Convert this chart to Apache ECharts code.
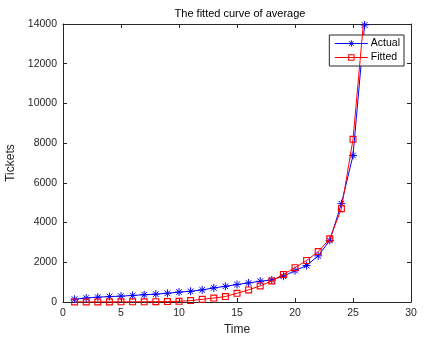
<!DOCTYPE html>
<html>
<head>
<meta charset="utf-8">
<script src="https://cdn.jsdelivr.net/npm/echarts@6/dist/echarts.min.js"></script>
<style>
    html, body { margin: 0; padding: 0; background: #fff; }
    #chart { width: 425px; height: 349px; }
</style>
</head>
<body>
<div id="chart"></div>
<script>
    // data
    const time = [1, 2, 3, 4, 5, 6, 7, 8, 9, 10, 11, 12, 13, 14, 15, 16, 17, 18, 19, 20, 21, 22, 23, 24, 25, 26];
    const actual = [140, 200, 240, 275, 295, 330, 365, 395, 440, 500, 540, 610, 710, 790, 880, 960, 1045, 1110, 1300, 1580, 1835, 2325, 3100, 4950, 7380, 13950];
    const fitted = [2, 3, 4, 5, 7, 9, 12, 16, 22, 35, 70, 135, 200, 275, 440, 610, 810, 1060, 1390, 1730, 2090, 2540, 3180, 4700, 8190, 14700];
    const xTicks = [0, 5, 10, 15, 20, 25, 30];
    const yTicks = [0, 2000, 4000, 6000, 8000, 10000, 12000, 14000];

    const axisColor = '#262626';
    const font = 'Liberation Sans, Arial, sans-serif';
    // asterisk marker (stroked) and hollow square marker (ring, filled)
    const star = 'path://M0,-1L0,1M-1,0L1,0M-0.7,-0.7L0.7,0.7M-0.7,0.7L0.7,-0.7';
    const square = 'path://M-1,-1L1,-1L1,1L-1,1ZM-0.68,-0.68L-0.68,0.68L0.68,0.68L0.68,-0.68Z';

    function pairs(xs, ys) {
        return xs.map((x, i) => [x, ys[i]]);
    }

    // x/y axis in matlab box style
    function xAxis(pos, labels) {
        return {
            type: 'value', position: pos,
            min: xTicks[0], max: xTicks[xTicks.length - 1], interval: 5,
            name: labels ? 'Time' : '', nameLocation: 'middle', nameGap: 22,
            nameTextStyle: { color: axisColor, fontSize: 12, fontFamily: font },
            axisLine: { show: true, onZero: false, lineStyle: { color: axisColor, width: 1 } },
            axisTick: { show: true, inside: true, length: 4, lineStyle: { color: axisColor } },
            axisLabel: { show: labels, color: axisColor, fontSize: 10.5, fontFamily: font, margin: 6 },
            splitLine: { show: false }
        };
    }
    function yAxis(pos, labels) {
        return {
            type: 'value', position: pos,
            min: yTicks[0], max: yTicks[yTicks.length - 1], interval: 2000,
            name: labels ? 'Tickets' : '', nameLocation: 'middle', nameGap: 34,
            nameTextStyle: { color: axisColor, fontSize: 12, fontFamily: font },
            axisLine: { show: true, onZero: false, lineStyle: { color: axisColor, width: 1 } },
            axisTick: { show: true, inside: true, length: 4, lineStyle: { color: axisColor } },
            axisLabel: {
                show: labels, color: axisColor, fontSize: 10.5, fontFamily: font, margin: 6,
                formatter: v => String(v)
            },
            splitLine: { show: false }
        };
    }

    const myChart = echarts.init(document.getElementById('chart'));
    const option = {
        animation: false,
        backgroundColor: '#fff',
        title: {
            text: 'The fitted curve of average',
            left: 235, top: 3, textAlign: 'center',
            textStyle: { color: '#000', fontSize: 11, fontWeight: 'normal', fontFamily: font }
        },
        grid: { left: 63, right: 14, top: 24, bottom: 47, outerBoundsMode: 'none' },
        legend: {
            orient: 'vertical',
            right: 21, top: 35,
            backgroundColor: '#fff',
            borderColor: axisColor, borderWidth: 1, borderRadius: 0,
            padding: [3, 4, 3, 5],
            itemWidth: 33, itemHeight: 8, itemGap: 3,
            itemStyle: { borderWidth: 1 },
            textStyle: { color: '#000', fontSize: 10.5, fontFamily: font, padding: [0, 0, 0, -2] },
            data: [
                { name: 'Actual', lineStyle: { color: '#0000ff', width: 1, shadowBlur: 0 } },
                { name: 'Fitted', lineStyle: { color: '#ff0000', width: 1, shadowBlur: 0 } }
            ]
        },
        xAxis: [xAxis('bottom', true), xAxis('top', false)],
        yAxis: [yAxis('left', true), yAxis('right', false)],
        series: [
            {
                name: 'Actual', type: 'line',
                data: pairs(time, actual),
                symbol: star, symbolSize: 8,
                color: '#0000ff',
                lineStyle: { color: '#0000ff', width: 1 },
                itemStyle: { color: '#0000ff', borderColor: '#0000ff', borderWidth: 1 },
                z: 3
            },
            {
                name: 'Fitted', type: 'line',
                data: pairs(time, fitted),
                symbol: square, symbolSize: 7,
                color: '#ff0000',
                lineStyle: { color: '#ff0000', width: 1 },
                itemStyle: { color: '#ff0000', borderWidth: 0 },
                z: 4
            }
        ]
    };
    myChart.setOption(option);
</script>
</body>
</html>
